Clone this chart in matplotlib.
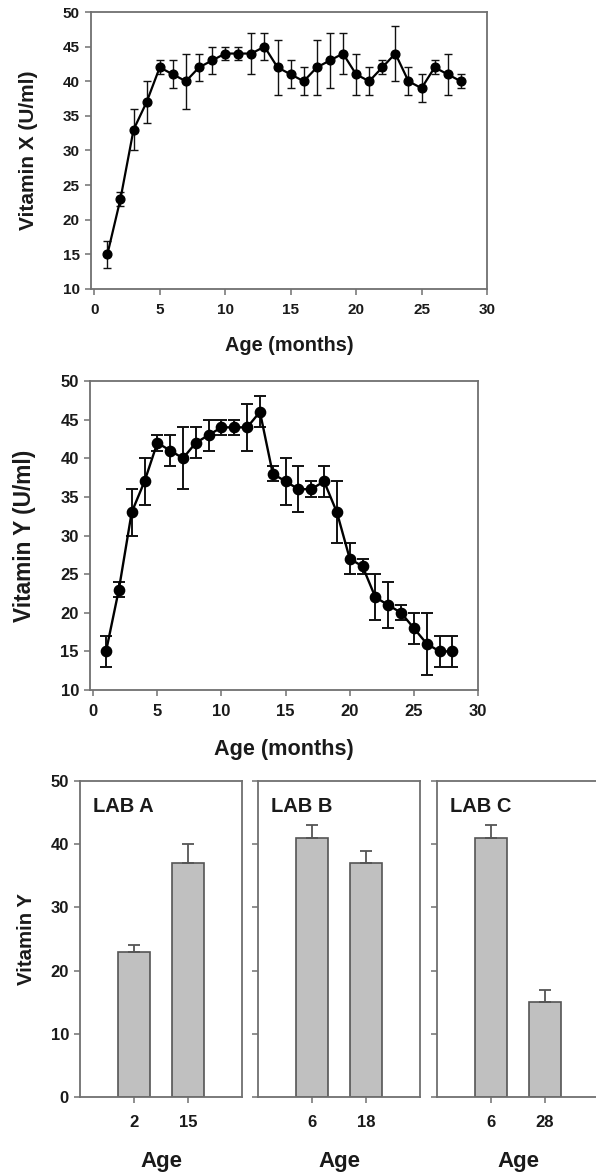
import numpy as np
import matplotlib
matplotlib.use("Agg")
import matplotlib.pyplot as plt

plt.rcParams['font.family'] = ['Liberation Sans', 'DejaVu Sans']
plt.rcParams['font.weight'] = 'bold'

# monthly data, ages 1..28
age = np.arange(1, 29)
vit_x = [15, 23, 33, 37, 42, 41, 40, 42, 43, 44, 44, 44, 45, 42,
         41, 40, 42, 43, 44, 41, 40, 42, 44, 40, 39, 42, 41, 40]
vit_x_err = [2, 1, 3, 3, 1, 2, 4, 2, 2, 1, 1, 3, 2, 4,
             2, 2, 4, 4, 3, 3, 2, 1, 4, 2, 2, 1, 3, 1]
vit_y = [15, 23, 33, 37, 42, 41, 40, 42, 43, 44, 44, 44, 46, 38,
         37, 36, 36, 37, 33, 27, 26, 22, 21, 20, 18, 16, 15, 15]
vit_y_err = [2, 1, 3, 3, 1, 2, 4, 2, 2, 1, 1, 3, 2, 1,
             3, 3, 1, 2, 4, 2, 1, 3, 3, 1, 2, 4, 2, 2]

# lab comparison
labs = ['LAB A', 'LAB B', 'LAB C']
lab_ages = [['2', '15'], ['6', '18'], ['6', '28']]
lab_vals = [[23, 37], [41, 37], [41, 15]]
lab_errs = [[1, 3], [2, 2], [2, 2]]

W, H = 596, 1172
fig = plt.figure(figsize=(W / 100, H / 100), dpi=100)

def rect(l, t, r, b):
    return [l / W, 1 - b / H, (r - l) / W, (b - t) / H]

spine_c = '#707070'
txt_c = '#1a1a1a'

def style(ax, fs, pad=4):
    for s in ax.spines.values():
        s.set_color(spine_c)
        s.set_linewidth(1.3)
    ax.tick_params(direction='out', length=4, width=1.1, color=spine_c,
                   labelsize=fs, labelcolor=txt_c, pad=pad)
    for lab in ax.get_xticklabels() + ax.get_yticklabels():
        lab.set_fontweight('bold')

def line_panel(ax, y, err, ylabel, fs_tick, fs_xl, fs_yl, ms, lw, elw, cap, xl_y, yl_x):
    ax.errorbar(age, y, yerr=err, fmt='-o', color='black', lw=lw,
                ms=ms, ecolor='#111111', elinewidth=elw, capsize=cap, capthick=elw)
    ax.set_xlim(-0.25, 30)
    ax.set_ylim(10, 50)
    ax.set_xticks(range(0, 31, 5))
    ax.set_yticks(range(10, 51, 5))
    style(ax, fs_tick)
    ax.tick_params(axis='x', pad=6)
    ax.set_xlabel('Age (months)', fontsize=fs_xl, fontweight='bold', color=txt_c)
    ax.set_ylabel(ylabel, fontsize=fs_yl, fontweight='bold', color=txt_c)
    ax.xaxis.set_label_coords(0.5, xl_y)
    ax.yaxis.set_label_coords(yl_x, 0.5)

ax1 = fig.add_axes(rect(91, 12, 487, 289))
line_panel(ax1, vit_x, vit_x_err, 'Vitamin X (U/ml)', 11, 14.3, 15,
           6.3, 1.6, 1.0, 3, -0.170, -0.135)

ax2 = fig.add_axes(rect(90, 381, 478, 690))
line_panel(ax2, vit_y, vit_y_err, 'Vitamin Y (U/ml)', 12, 15.6, 16.3,
           7.4, 1.7, 1.4, 4.2, -0.160, -0.138)

lefts = [80, 258, 437]
for i, lab in enumerate(labs):
    ax = fig.add_axes(rect(lefts[i], 781, lefts[i] + 162, 1097))
    pos = [1, 2]
    ax.bar(pos, lab_vals[i], width=0.6, color='#c0c0c0', edgecolor='#555555', lw=1.2,
           yerr=[[0, 0], lab_errs[i]], ecolor='#555555',
           error_kw=dict(elinewidth=1.3, capsize=4, capthick=1.3))
    ax.set_xlim(0, 3)
    ax.set_ylim(0, 50)
    ax.set_xticks(pos)
    ax.set_xticklabels(lab_ages[i])
    ax.set_yticks(range(0, 51, 10))
    style(ax, 12)
    ax.tick_params(axis='x', pad=9)
    if i > 0:
        ax.set_yticklabels([])
    else:
        ax.set_ylabel('Vitamin Y', fontsize=14.7, fontweight='bold', color=txt_c)
        ax.yaxis.set_label_coords(-0.272, 0.5)
    ax.set_xlabel('Age', fontsize=16, fontweight='bold', color=txt_c)
    ax.xaxis.set_label_coords(0.5, -0.172)
    ax.text(0.08, 0.95, lab, transform=ax.transAxes, fontsize=14.5, fontweight='bold',
            color=txt_c, va='top', ha='left')

fig.savefig('out.png', dpi=100)
